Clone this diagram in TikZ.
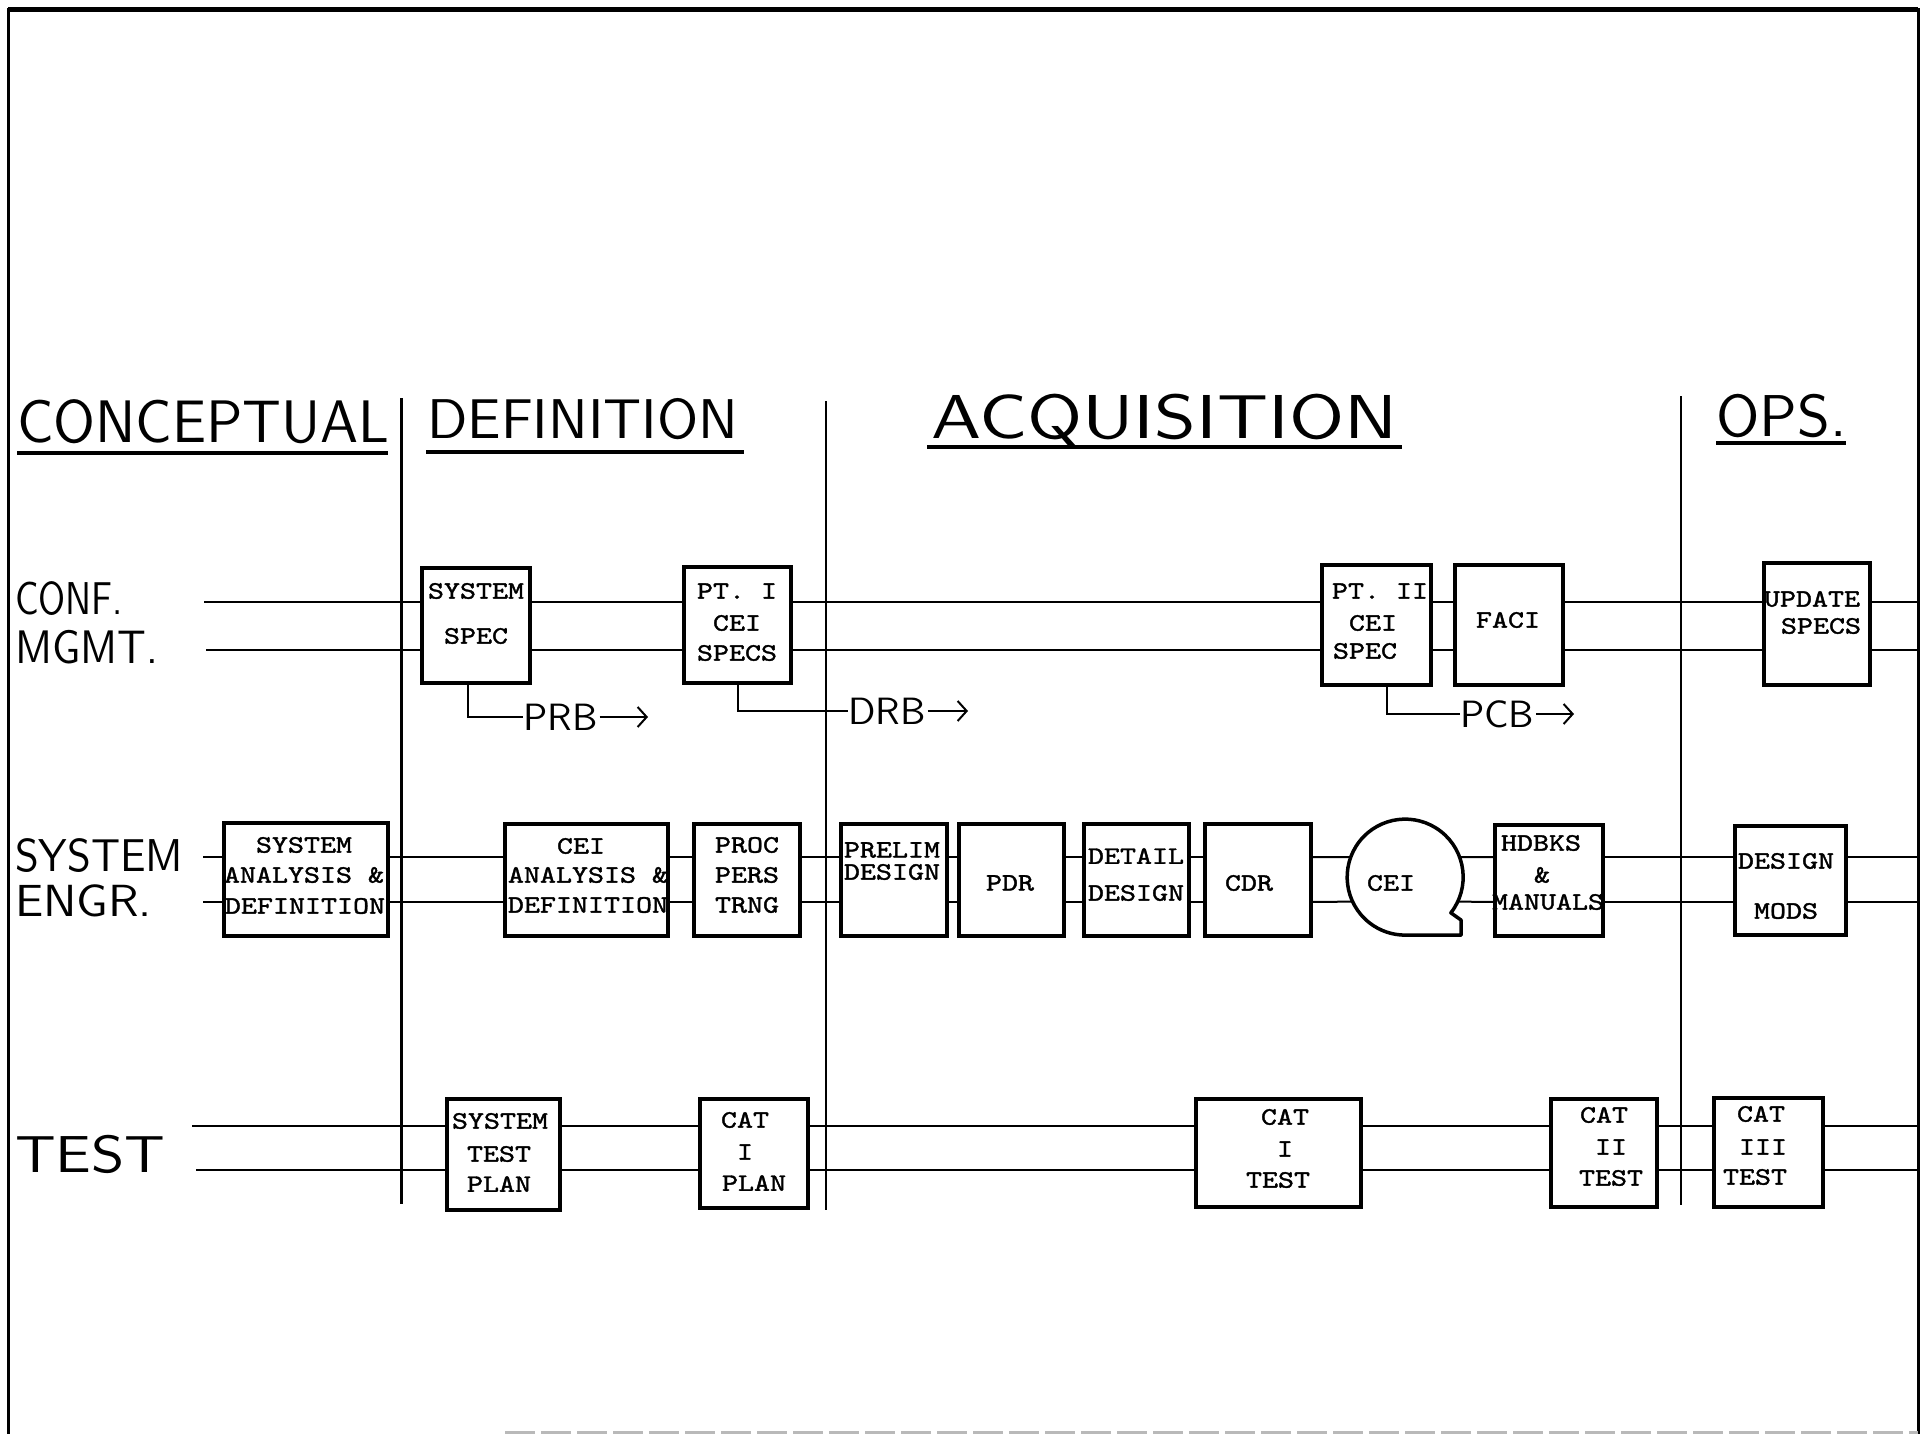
\documentclass[tikz,border=0pt]{standalone}
\usepackage{fontspec}
\usepackage{graphicx}
\usetikzlibrary{arrows.meta}
\newfontfamily\boxfont{lmmono10-regular.otf}[FakeStretch=1.22,FakeBold=1.5]
\newfontfamily\handfont{lmsans10-regular.otf}
\tikzset{
  box/.style={draw, line width=3.5pt, fill=white, inner sep=0pt, outer sep=0pt},
  bt/.style={font={\boxfont\fontsize{25}{25}\selectfont}, inner sep=0pt},
  hand/.style={inner sep=0pt, anchor=base west},
  conn/.style={line width=2pt},
  divider/.style={line width=2.8pt},
  uline/.style={line width=3.5pt},
  harrow/.style={line width=2pt, -{Straight Barb[length=9pt,width=20pt,line width=2pt]}},
  bracket/.style={line width=2pt},
}
\begin{document}
\begin{tikzpicture}[x=1pt,y=-1pt]
\useasboundingbox (0,0) rectangle (1925,1434);
% frame
\draw[line width=3pt] (8,1434) -- (8,10) -- (1918,10) -- (1918,1434);
\draw[line width=5pt] (8,10) -- (1918,10);
\draw[line width=3pt, gray!55, dash pattern=on 30pt off 6pt] (505,1432) -- (1918,1432);

% phase headings
\node[hand, font={\handfont\fontsize{60}{60}\selectfont}] (hconc) at (17,442) {\scalebox{0.95}[1]{CONCEPTUAL}};
\node[hand, font={\handfont\fontsize{56}{56}\selectfont}] (hdef) at (427,438) {DEFINITION};
\node[hand, font={\handfont\fontsize{62}{62}\selectfont}] (hacq) at (931,438) {\scalebox{1.21}[1]{ACQUISITION}};
\node[hand, font={\handfont\fontsize{59}{59}\selectfont}] (hops) at (1716,436) {OPS.};
\draw[uline] (17,453) -- (388,453);
\draw[uline] (426,452) -- (744,452);
\draw[uline] (927,447) -- (1402,447);
\draw[uline] (1716,443) -- (1846,443);

% phase dividers
\draw[divider] (401.5,398) -- (401.5,1204);
\draw[divider] (826,401) -- (826,1210);
\draw[divider] (1681,396) -- (1681,1205);

% row labels
\node[hand, font={\handfont\fontsize{46}{46}\selectfont}] (lconf) at (15,614) {\scalebox{0.8}[1]{CONF.}};
\node[hand, font={\handfont\fontsize{47}{47}\selectfont}] (lmgmt) at (15,663) {\scalebox{0.9}[1]{MGMT.}};
\node[hand, font={\handfont\fontsize{46}{46}\selectfont}] (lsys) at (15,871) {\scalebox{0.93}[1]{SYSTEM}};
\node[hand, font={\handfont\fontsize{45}{45}\selectfont}] (leng) at (15,916) {\scalebox{1.05}[1]{ENGR.}};
\node[hand, font={\handfont\fontsize{52}{52}\selectfont}] (ltest) at (15,1172) {\scalebox{1.15}[1]{TEST}};

% ---------- CONF. MGMT. row ----------
\node[box, minimum width=108pt, minimum height=115pt] (sysspec) at (476,625.5) {};
\node[box, minimum width=107pt, minimum height=116pt] (pt1) at (737.5,625) {};
\node[box, minimum width=109pt, minimum height=120pt] (pt2) at (1376.5,625) {};
\node[box, minimum width=108pt, minimum height=120pt] (faci) at (1509,625) {};
\node[box, minimum width=106pt, minimum height=122pt] (upd) at (1817,624) {};

\node[bt] (ss1) at (476,591) {SYSTEM};
\node[bt] (ss2) at (476,636) {SPEC};
\node[bt] (pa1) at (737,591) {PT.~I};
\node[bt] (pa2) at (737,623) {CEI};
\node[bt] (pa3) at (737,653) {SPECS};
\node[bt] (pb1) at (1380,591) {PT.~II};
\node[bt] (pb2) at (1373,623) {CEI};
\node[bt] (pb3) at (1365,651) {SPEC};
\node[bt] (fa1) at (1508,620) {FACI};
\node[bt] (up1) at (1812,599) {UPDATE};
\node[bt] (up2) at (1821,626) {SPECS};

\coordinate (c1) at (204,602);
\coordinate (c2) at (206,650);
\coordinate (c1e) at (1918,602);
\coordinate (c2e) at (1918,650);
\draw[conn] (c1) -- (sysspec.west |- c1);
\draw[conn] (c2) -- (sysspec.west |- c2);
\foreach \a/\b in {sysspec/pt1, pt1/pt2, pt2/faci, faci/upd} {
  \draw[conn] (\a.east |- c1) -- (\b.west |- c1);
  \draw[conn] (\a.east |- c2) -- (\b.west |- c2);
}
\draw[conn] (upd.east |- c1) -- (c1e);
\draw[conn] (upd.east |- c2) -- (c2e);

% review brackets
\node[hand, anchor=west, font={\handfont\fontsize{38}{38}\selectfont}] (prb) at (523,717) {PRB};
\node[hand, anchor=west, font={\handfont\fontsize{38}{38}\selectfont}] (drb) at (848,711) {DRB};
\node[hand, anchor=west, font={\handfont\fontsize{38}{38}\selectfont}] (pcb) at (1460,714) {PCB};
\coordinate (prbtip) at (648,717);
\coordinate (drbtip) at (968,711);
\coordinate (pcbtip) at (1574,714);
\draw[bracket] ([xshift=-8pt]sysspec.south) |- (prb.west);
\draw[bracket] (pt1.south) |- (drb.west);
\draw[bracket] ([xshift=10pt]pt2.south) |- (pcb.west);
\draw[harrow] ([xshift=2pt]prb.east) -- (prbtip);
\draw[harrow] ([xshift=2pt]drb.east) -- (drbtip);
\draw[harrow] ([xshift=2pt]pcb.east) -- (pcbtip);

% ---------- SYSTEM ENGR. row ----------
\node[box, minimum width=164pt, minimum height=113pt] (sa) at (306,879.5) {};
\node[box, minimum width=163pt, minimum height=112pt] (ceia) at (586.5,880) {};
\node[box, minimum width=106pt, minimum height=112pt] (proc) at (747,880) {};
\node[box, minimum width=106pt, minimum height=112pt] (prelim) at (894,880) {};
\node[box, minimum width=105pt, minimum height=112pt] (pdr) at (1011.5,880) {};
\node[box, minimum width=105pt, minimum height=112pt] (detail) at (1136.5,880) {};
\node[box, minimum width=106pt, minimum height=112pt] (cdr) at (1258,880) {};
\node[circle, minimum size=116pt, inner sep=0pt, fill=white] (cei) at (1405,877) {};
\draw[line width=3.5pt, line join=round] (cei.-38) arc[start angle=-38, end angle=270, radius=58pt] -- ++(56pt,0pt) -- ++(0pt,15pt) -- cycle;
\node[box, minimum width=108pt, minimum height=111pt] (hdbks) at (1549,880.5) {};
\node[box, minimum width=111pt, minimum height=109pt] (mods) at (1790.5,880.5) {};

\node[bt] (sa1) at (304,845) {SYSTEM};
\node[bt] (sa2) at (304,875) {ANALYSIS~\&};
\node[bt] (sa3) at (305,906) {DEFINITION};
\node[bt] (ca1) at (581,846) {CEI};
\node[bt] (ca2) at (588,875) {ANALYSIS~\&};
\node[bt] (ca3) at (588,905) {DEFINITION};
\node[bt] (pr1) at (747,845) {PROC};
\node[bt] (pr2) at (747,875) {PERS};
\node[bt] (pr3) at (747,905) {TRNG};
\node[bt] (pl1) at (892,850) {PRELIM};
\node[bt] (pl2) at (892,872) {DESIGN};
\node[bt] (pd1) at (1010,883) {PDR};
\node[bt] (de1) at (1136,856) {DETAIL};
\node[bt] (de2) at (1136,893) {DESIGN};
\node[bt] (cd1) at (1249,883) {CDR};
\node[bt] (ce1) at (1391,883) {CEI};
\node[bt] (hd1) at (1541,843) {HDBKS};
\node[bt] (hd2) at (1542,875) {\&};
\node[bt] (hd3) at (1548,902) {MANUALS};
\node[bt] (mo1) at (1786,861) {DESIGN};
\node[bt] (mo2) at (1786,911) {MODS};

\coordinate (s1) at (203,857);
\coordinate (s2) at (203,902);
\coordinate (s1e) at (1918,857);
\coordinate (s2e) at (1918,902);
\draw[conn] (s1) -- (sa.west |- s1);
\draw[conn] (s2) -- (sa.west |- s2);
\foreach \a/\b in {sa/ceia, ceia/proc, proc/prelim, prelim/pdr, pdr/detail, detail/cdr, hdbks/mods} {
  \draw[conn] (\a.east |- s1) -- (\b.west |- s1);
  \draw[conn] (\a.east |- s2) -- (\b.west |- s2);
}
\draw[conn] (cdr.east |- s1) -- (cei.160);
\draw[conn] (cdr.east |- s2) -- (cei.205.5);
\draw[conn] (cei.20) -- (hdbks.west |- s1);
\draw[conn] (cei.-25.5) -- (hdbks.west |- s2);
\draw[conn] (mods.east |- s1) -- (s1e);
\draw[conn] (mods.east |- s2) -- (s2e);

% ---------- TEST row ----------
\node[box, minimum width=113pt, minimum height=111pt] (stp) at (503.5,1154.5) {};
\node[box, minimum width=108pt, minimum height=109pt] (cat1p) at (754,1153.5) {};
\node[box, minimum width=165pt, minimum height=108pt] (cat1t) at (1278.5,1153) {};
\node[box, minimum width=106pt, minimum height=108pt] (cat2t) at (1604,1153) {};
\node[box, minimum width=109pt, minimum height=109pt] (cat3t) at (1768.5,1152.5) {};

\node[bt] (st1) at (500,1121) {SYSTEM};
\node[bt] (st2) at (499,1154) {TEST};
\node[bt] (st3) at (499,1184) {PLAN};
\node[bt] (cp1) at (745,1120) {CAT};
\node[bt] (cp2) at (745,1152) {I};
\node[bt] (cp3) at (754,1183) {PLAN};
\node[bt] (ct1) at (1285,1117) {CAT};
\node[bt] (ct2) at (1285,1149) {I};
\node[bt] (ct3) at (1278,1180) {TEST};
\node[bt] (cu1) at (1604,1115) {CAT};
\node[bt] (cu2) at (1611,1147) {II};
\node[bt] (cu3) at (1611,1178) {TEST};
\node[bt] (cv1) at (1761,1114) {CAT};
\node[bt] (cv2) at (1763,1147) {III};
\node[bt] (cv3) at (1755,1177) {TEST};

\coordinate (t1) at (192,1126);
\coordinate (t2) at (196,1170);
\coordinate (t1e) at (1918,1126);
\coordinate (t2e) at (1918,1170);
\draw[conn] (t1) -- (stp.west |- t1);
\draw[conn] (t2) -- (stp.west |- t2);
\foreach \a/\b in {stp/cat1p, cat1p/cat1t, cat1t/cat2t, cat2t/cat3t} {
  \draw[conn] (\a.east |- t1) -- (\b.west |- t1);
  \draw[conn] (\a.east |- t2) -- (\b.west |- t2);
}
\draw[conn] (cat3t.east |- t1) -- (t1e);
\draw[conn] (cat3t.east |- t2) -- (t2e);
\end{tikzpicture}
\end{document}
